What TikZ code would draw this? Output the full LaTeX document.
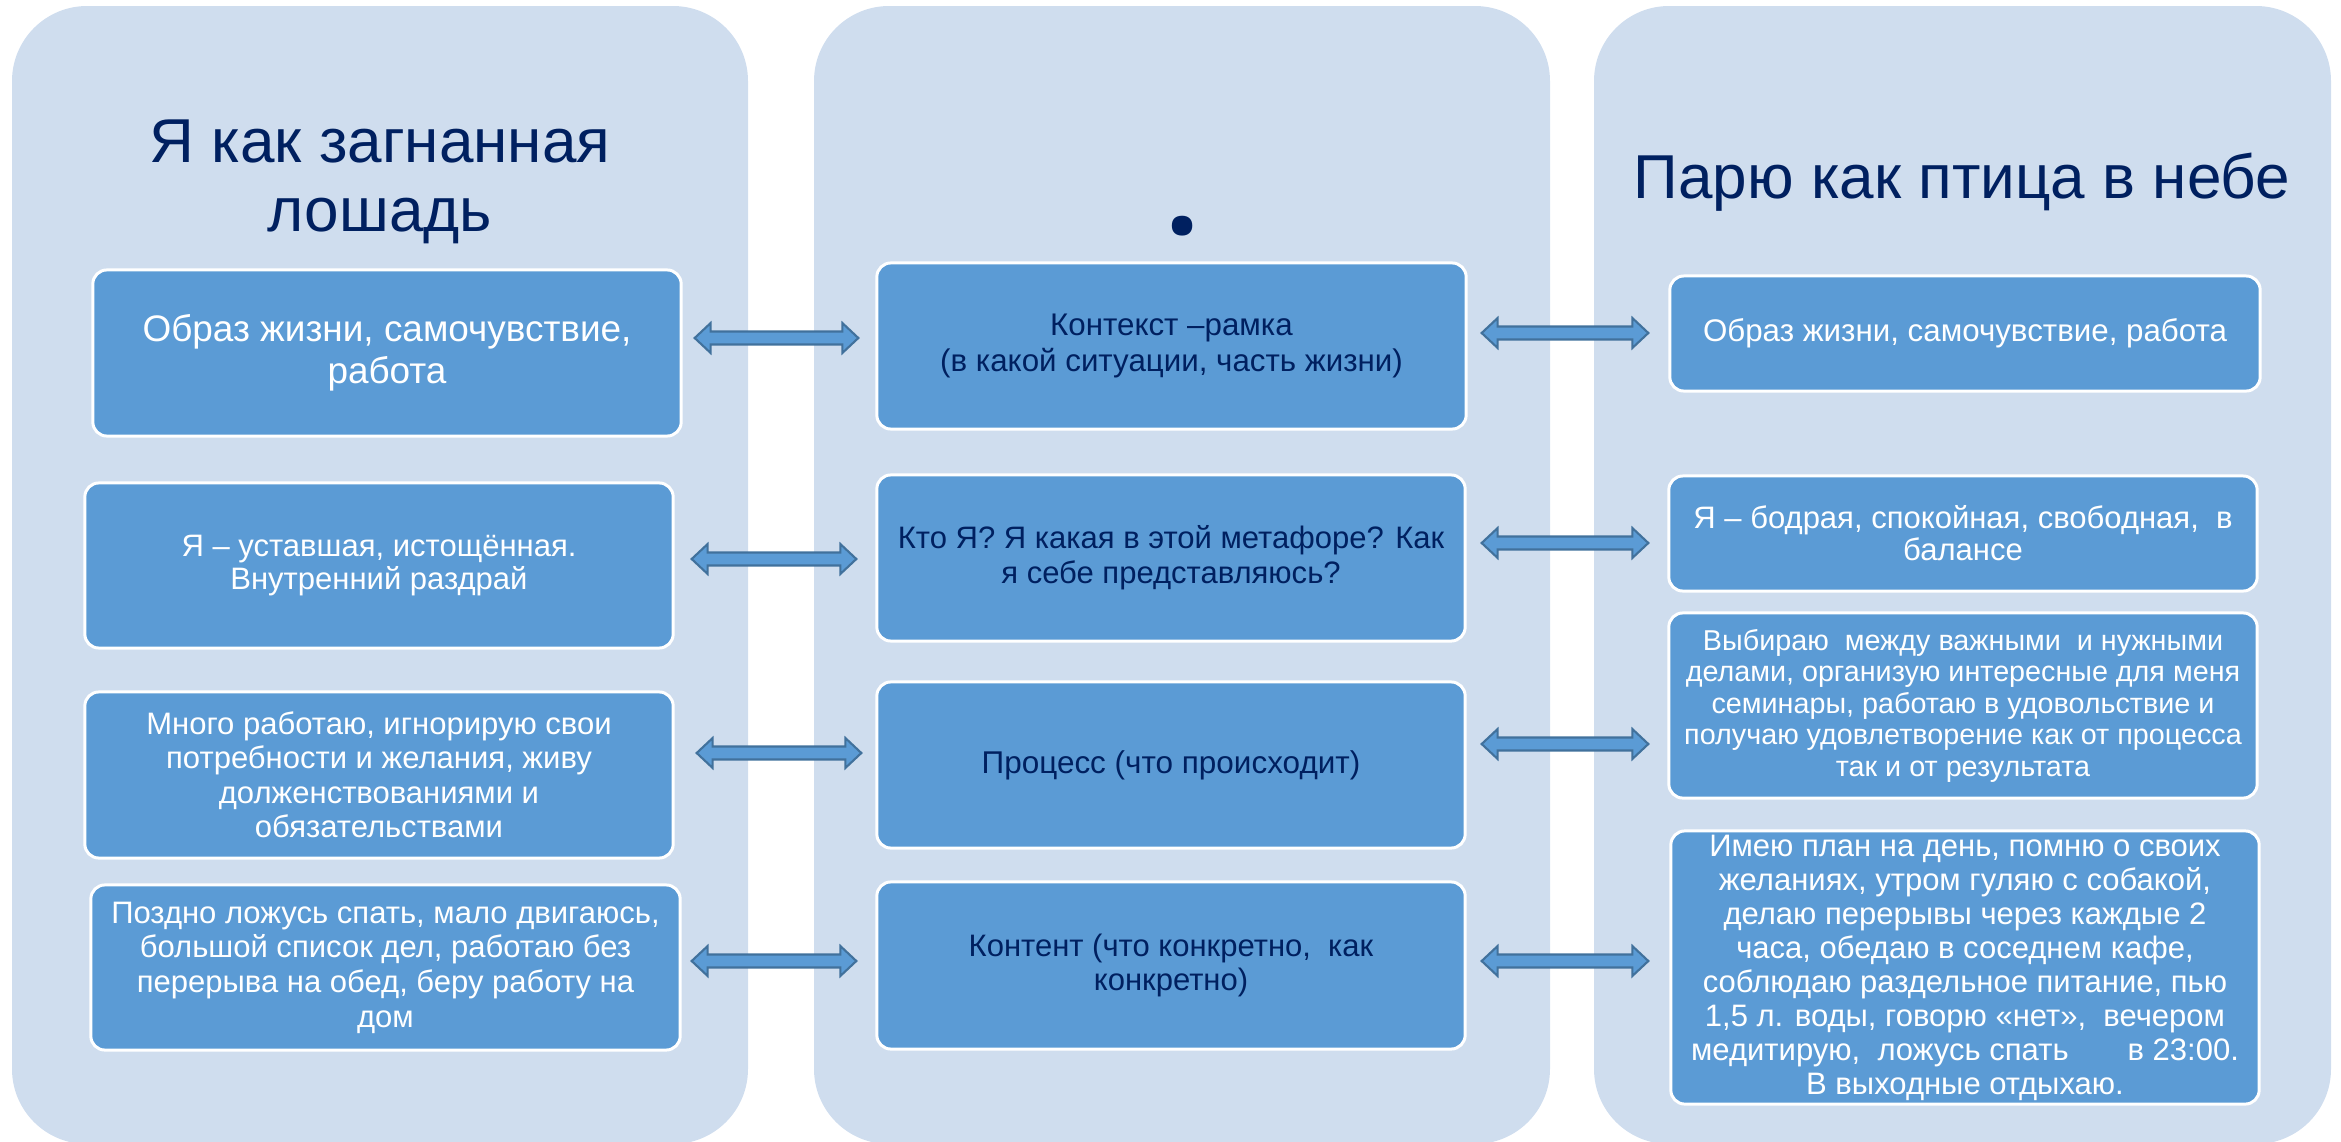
\documentclass[tikz,border=0pt]{standalone}
\usepackage{fontspec}
\setmainfont{Liberation Sans}
\newfontfamily\dotfont{Open Sans}
\usetikzlibrary{calc}
\definecolor{panelbg}{HTML}{CFDDEE}
\definecolor{boxfill}{HTML}{5B9BD5}
\definecolor{arrline}{HTML}{41719C}
\definecolor{navy}{HTML}{002060}
\newcommand\pxfont[2]{\fontsize{#1}{#2}\selectfont}
\newcommand\dblarrow[2]{%
  \draw[blockarr] (#1) -- ($(#1)+(16,-15)$) -- ($(#1)+(16,-6.5)$) -- ($(#2)+(-16,-6.5)$) -- ($(#2)+(-16,-15)$) -- (#2)
    -- ($(#2)+(-16,15)$) -- ($(#2)+(-16,6.5)$) -- ($(#1)+(16,6.5)$) -- ($(#1)+(16,15)$) -- cycle;}
\begin{document}
\begin{tikzpicture}[x=0.01cm,y=-0.01cm,
  panel/.style={fill=panelbg, rounded corners=0.75cm},
  cbox/.style={draw=white, line width=0.85pt, fill=boxfill, rounded corners=0.14cm,
    inner sep=0pt, align=center, minimum width=5.88cm},
  wtext/.style={text=white},
  ntext/.style={text=navy},
  blockarr/.style={fill=boxfill, draw=arrline, line width=0.6pt, line join=miter},
  title/.style={text=navy, align=center, inner sep=0pt, font=\pxfont{17.64pt}{19.6pt}},
  ]
\useasboundingbox (0,0) rectangle (2341,1142);
\clip (0,0) rectangle (2341,1142);
% panels
\path[panel] (12,6) rectangle (748,1144);
\path[panel] (814,6) rectangle (1550,1144);
\path[panel] (1594,6) rectangle (2331,1144);
% titles
\node[title, anchor=north] (t1) at (380,119) {Я как загнанная\\лошадь};
\node[title, anchor=base] (t3) at (1962,198) {Парю как птица в небе};
\node[text=navy, inner sep=0pt, anchor=base] (t2) at (1183,234) {\dotfont\pxfont{34pt}{34pt}\bfseries .};
% left column
\node[cbox, wtext, minimum height=1.66cm, font=\pxfont{10.5pt}{11.95pt}] (L1) at (387,353)
  {Образ жизни, самочувствие,\\работа};
\node[cbox, wtext, minimum height=1.65cm, font=\pxfont{8.82pt}{9.4pt}] (L2) at (379,565.5)
  {Я – уставшая, истощённая.\\Внутренний раздрай};
\node[cbox, wtext, minimum height=1.66cm, font=\pxfont{8.82pt}{9.8pt}] (L3) at (379,775)
  {Много работаю, игнорирую свои\\потребности и желания, живу\\долженствованиями и\\обязательствами};
\node[cbox, wtext, minimum height=1.65cm, minimum width=5.89cm, font=\pxfont{8.82pt}{9.87pt}] (L4) at (385.5,967.5)
  {Поздно ложусь спать, мало двигаюсь,\\большой список дел, работаю без\\перерыва на обед, беру работу на\\дом};
% middle column
\node[cbox, ntext, minimum height=1.66cm, minimum width=5.89cm, font=\pxfont{8.9pt}{10.5pt}] (M1) at (1171.5,346)
  {Контекст –рамка\\(в какой ситуации, часть жизни)};
\node[cbox, ntext, minimum height=1.66cm, font=\pxfont{8.82pt}{10pt}] (M2) at (1171,558)
  {Кто Я? Я какая в этой метафоре? Как\\я себе представляюсь?};
\node[cbox, ntext, minimum height=1.66cm, font=\pxfont{8.95pt}{10pt}] (M3) at (1171,765)
  {Процесс (что происходит)};
\node[cbox, ntext, minimum height=1.67cm, font=\pxfont{8.82pt}{9.7pt}] (M4) at (1171,965.5)
  {Контент (что конкретно,~ как\\конкретно)};
% right column
\node[cbox, wtext, minimum height=1.15cm, minimum width=5.9cm, font=\pxfont{8.9pt}{10pt}] (R1) at (1965,333.5)
  {Образ жизни, самочувствие, работа};
\node[cbox, wtext, minimum height=1.15cm, font=\pxfont{8.82pt}{9.1pt}] (R2) at (1963,533.5)
  {Я – бодрая, спокойная, свободная,~ в\\балансе};
\node[cbox, wtext, minimum height=1.85cm, font=\pxfont{8.17pt}{8.96pt}] (R3) at (1963,705.5)
  {Выбираю~ между важными~ и нужными\\делами, организую интересные для меня\\семинары, работаю в удовольствие и\\получаю удовлетворение как от процесса\\так и от результата};
\node[cbox, wtext, minimum height=2.73cm, font=\pxfont{8.82pt}{9.67pt}] (R4) at (1965,967.5)
  {Имею план на день, помню о своих\\желаниях, утром гуляю с собакой,\\делаю перерывы через каждые 2\\часа, обедаю в соседнем кафе,\\соблюдаю раздельное питание, пью\\1,5 л. воды, говорю «нет»,~ вечером\\медитирую,~ ложусь спать\hspace{1.9em}в 23:00.\\В выходные отдыхаю.};
% arrow end points
\coordinate (a1s) at ($(L1.east)+(12,-15)$);
\coordinate (a1e) at ($(M1.west)+(-17,-8)$);
\coordinate (b1s) at ($(M1.east)+(14,-13)$);
\coordinate (b1e) at ($(R1.west)+(-20,-0.5)$);
\coordinate (a2s) at ($(L2.east)+(17,-6.5)$);
\coordinate (a2e) at ($(M2.west)+(-19,1)$);
\coordinate (b2s) at ($(M2.east)+(15,-15)$);
\coordinate (b2e) at ($(R2.west)+(-19,9.5)$);
\coordinate (a3s) at ($(L3.east)+(22,-22)$);
\coordinate (a3e) at ($(M3.west)+(-14,-12)$);
\coordinate (b3s) at ($(M3.east)+(15,-21)$);
\coordinate (b3e) at ($(R3.west)+(-19,38.5)$);
\coordinate (a4s) at ($(L4.east)+(10,-6.5)$);
\coordinate (a4e) at ($(M4.west)+(-19,-4.5)$);
\coordinate (b4s) at ($(M4.east)+(15,-4.5)$);
\coordinate (b4e) at ($(R4.west)+(-21,-6.5)$);
% arrows
\dblarrow{a1s}{a1e}
\dblarrow{b1s}{b1e}
\dblarrow{a2s}{a2e}
\dblarrow{b2s}{b2e}
\dblarrow{a3s}{a3e}
\dblarrow{b3s}{b3e}
\dblarrow{a4s}{a4e}
\dblarrow{b4s}{b4e}
\end{tikzpicture}
\end{document}
